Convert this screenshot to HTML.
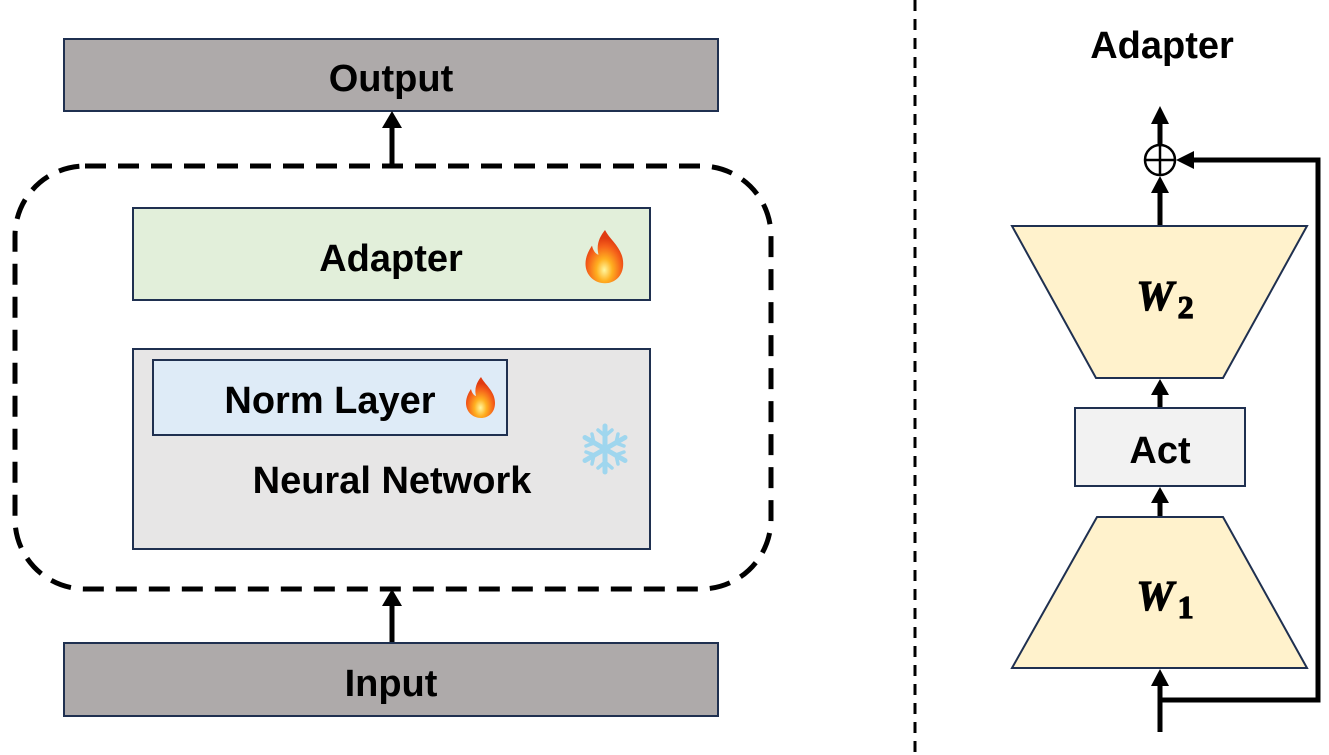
<!DOCTYPE html>
<html><head><meta charset="utf-8"><style>
html,body{margin:0;padding:0;background:#fff;}
svg{display:block;}
text{font-family:"Liberation Sans","DejaVu Sans",sans-serif;fill:#000;font-weight:bold;}
</style></head><body>
<svg width="1329" height="755" viewBox="0 0 1329 755" xmlns="http://www.w3.org/2000/svg">
<defs>
<radialGradient id="fl" cx="0.5" cy="0.75" r="0.6">
<stop offset="0" stop-color="#fff7a0"/><stop offset="0.35" stop-color="#ffb020"/><stop offset="0.75" stop-color="#f5601a"/><stop offset="1" stop-color="#e03a10"/>
</radialGradient>
<g id="flame">
<path d="M0,-20 C4,-12 14,-6 14,6 C14,16 7,21 0,21 C-8,21 -15,15 -15,6 C-15,0 -12,-5 -10,-8 C-9,-3 -6,-1 -5,-1 C-7,-9 -4,-15 0,-20 Z" fill="url(#fl)"/>
</g>
</defs>
<rect x="64" y="39" width="654" height="72" fill="#AEAAAA" stroke="#1f3050" stroke-width="2"/>
<text x="391" y="91" font-size="38" text-anchor="middle">Output</text>
<line x1="392" y1="166" x2="392" y2="124" stroke="#000" stroke-width="5"/>
<polygon points="392,111 382,128 402,128" fill="#000"/>
<rect x="15" y="166" width="756" height="423" rx="70" ry="70" fill="none" stroke="#000" stroke-width="5" stroke-dasharray="21 12"/>
<rect x="133" y="208" width="517" height="92" fill="#E2EFDA" stroke="#1f3050" stroke-width="2"/>
<text x="391" y="271" font-size="38" text-anchor="middle">Adapter</text>
<use href="#flame" transform="translate(605,256) scale(1.3)"/>
<rect x="133" y="349" width="517" height="200" fill="#E7E6E6" stroke="#1f3050" stroke-width="2"/>
<rect x="153" y="360" width="354" height="75" fill="#DEEBF7" stroke="#1f3050" stroke-width="2"/>
<text x="330" y="413" font-size="38" text-anchor="middle">Norm Layer</text>
<use href="#flame" transform="translate(481,397) scale(1.0)"/>
<text x="392" y="493" font-size="38" text-anchor="middle">Neural Network</text>
<g transform="translate(605,449)" stroke="#9fd6ee" stroke-width="5" stroke-linecap="round" fill="none">
<line x1="0" y1="-23" x2="0" y2="23"/>
<line x1="-20" y1="-11.5" x2="20" y2="11.5"/>
<line x1="-20" y1="11.5" x2="20" y2="-11.5"/>
<g stroke-width="3.5">
<path d="M-7,-19 L0,-13 L7,-19 M-7,19 L0,13 L7,19"/>
<path d="M-19,-3 L-11,-6 L-13,-15 M19,3 L11,6 L13,15"/>
<path d="M-19,3 L-11,6 L-13,15 M19,-3 L11,-6 L13,-15"/>
</g>
</g>
<line x1="392" y1="643" x2="392" y2="603" stroke="#000" stroke-width="5"/>
<polygon points="392,589 382,606 402,606" fill="#000"/>
<rect x="64" y="643" width="654" height="73" fill="#AEAAAA" stroke="#1f3050" stroke-width="2"/>
<text x="391" y="696" font-size="38" text-anchor="middle">Input</text>
<line x1="915" y1="0" x2="915" y2="755" stroke="#000" stroke-width="3" stroke-dasharray="11 8"/>
<text x="1162" y="58" font-size="38" text-anchor="middle">Adapter</text>
<line x1="1160" y1="145" x2="1160" y2="120" stroke="#000" stroke-width="5"/>
<polygon points="1160,106 1151,124 1169,124" fill="#000"/>
<circle cx="1160" cy="160" r="15" fill="#fff" stroke="#000" stroke-width="2.5"/>
<line x1="1145" y1="160" x2="1175" y2="160" stroke="#000" stroke-width="2.5"/>
<line x1="1160" y1="145" x2="1160" y2="175" stroke="#000" stroke-width="2.5"/>
<line x1="1160" y1="226" x2="1160" y2="190" stroke="#000" stroke-width="5"/>
<polygon points="1160,176 1151,193 1169,193" fill="#000"/>
<polyline points="1160,700 1318,700 1318,160 1190,160" fill="none" stroke="#000" stroke-width="5"/>
<polygon points="1176,160 1194,151 1194,169" fill="#000"/>
<polygon points="1012,226 1307,226 1223,378 1096,378" fill="#FFF2CC" stroke="#1f3050" stroke-width="2"/>
<text x="1165" y="310" font-size="42" text-anchor="middle" style="font-family:'Liberation Serif',serif;font-style:italic;font-weight:900;stroke:#000;stroke-width:1.2">W<tspan font-size="32" style="font-style:normal" dy="8" dx="4">2</tspan></text>
<line x1="1160" y1="408" x2="1160" y2="392" stroke="#000" stroke-width="5"/>
<polygon points="1160,379 1151,395 1169,395" fill="#000"/>
<rect x="1075" y="408" width="170" height="78" fill="#F2F2F2" stroke="#1f3050" stroke-width="2"/>
<text x="1160" y="463" font-size="38" text-anchor="middle">Act</text>
<line x1="1160" y1="517" x2="1160" y2="500" stroke="#000" stroke-width="5"/>
<polygon points="1160,487 1151,503 1169,503" fill="#000"/>
<polygon points="1097,517 1223,517 1307,668 1012,668" fill="#FFF2CC" stroke="#1f3050" stroke-width="2"/>
<text x="1165" y="610" font-size="42" text-anchor="middle" style="font-family:'Liberation Serif',serif;font-style:italic;font-weight:900;stroke:#000;stroke-width:1.2">W<tspan font-size="32" style="font-style:normal" dy="8" dx="4">1</tspan></text>
<line x1="1160" y1="732" x2="1160" y2="683" stroke="#000" stroke-width="5"/>
<polygon points="1160,669 1151,686 1169,686" fill="#000"/>
</svg>
</body></html>
